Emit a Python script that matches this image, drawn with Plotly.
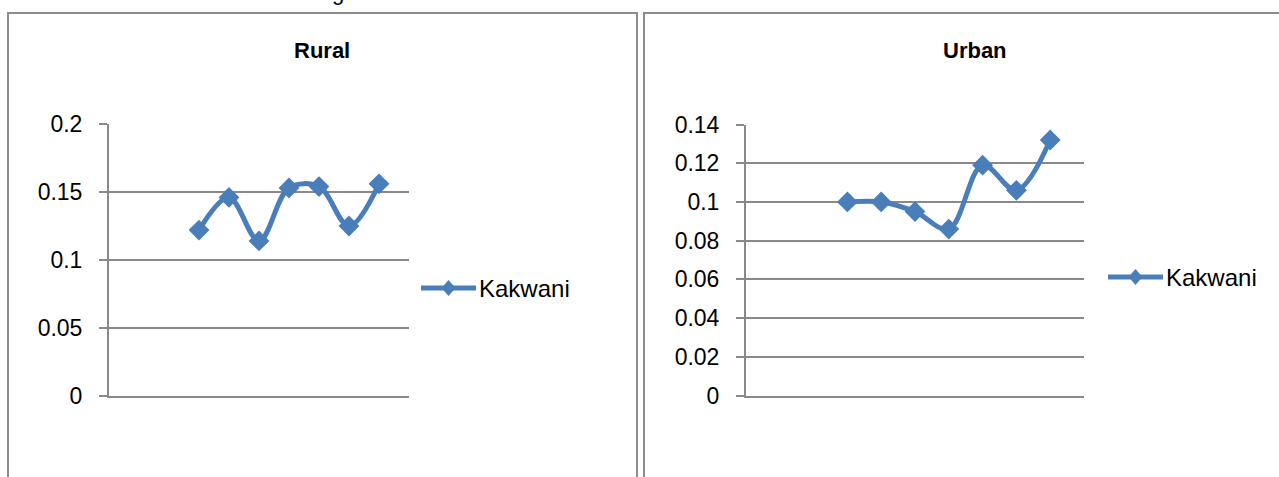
import plotly.graph_objects as go

# Kakwani index by period, rural and urban
periods = [3, 4, 5, 6, 7, 8, 9]
rural_kakwani = [0.122, 0.146, 0.114, 0.153, 0.154, 0.125, 0.156]
urban_kakwani = [0.100, 0.100, 0.095, 0.086, 0.119, 0.106, 0.132]

rural_ticks = [0, 0.05, 0.1, 0.15, 0.2]
urban_ticks = [0, 0.02, 0.04, 0.06, 0.08, 0.1, 0.12, 0.14]

W, H = 1279, 477
BLUE = "#4a7ebb"
GRID = "#898989"
FONT = "Liberation Sans"


def px(x):
    return x / W


def py(y):
    return 1 - y / H


fig = go.Figure()

for xs, ys, xa, ya in [(periods, rural_kakwani, "x", "y"),
                       (periods, urban_kakwani, "x2", "y2")]:
    fig.add_trace(go.Scatter(
        x=xs, y=ys, name="Kakwani", mode="lines+markers",
        line=dict(color=BLUE, width=5, shape="spline", smoothing=1),
        marker=dict(symbol="diamond", size=16, color=BLUE),
        xaxis=xa, yaxis=ya, showlegend=False,
    ))

xcommon = dict(range=[0, 10], showgrid=False, zeroline=False, showticklabels=False,
               ticks="", showline=True, linecolor=GRID, linewidth=2,
               automargin=False, fixedrange=True)
ycommon = dict(showgrid=True, gridcolor=GRID, gridwidth=2, zeroline=False,
               showline=True, linecolor=GRID, linewidth=2,
               ticks="outside", ticklen=8, tickwidth=2, tickcolor=GRID,
               ticklabelstandoff=12, automargin=False, fixedrange=True,
               tickfont=dict(family=FONT, size=23, color="#000000"))

fig.update_layout(
    width=W, height=H, autosize=False,
    margin=dict(l=0, r=0, t=0, b=0, pad=0, autoexpand=False),
    showlegend=False,
    paper_bgcolor="white", plot_bgcolor="white",
    font=dict(family=FONT, color="#000000"),
    xaxis=dict(domain=[px(109), px(409)], anchor="y", **xcommon),
    yaxis=dict(domain=[py(396), py(124)], anchor="x", range=[0, 0.2],
               tickvals=rural_ticks, **ycommon),
    xaxis2=dict(domain=[px(746), px(1084)], anchor="y2", **xcommon),
    yaxis2=dict(domain=[py(395.5), py(124.5)], anchor="x2", range=[0, 0.14],
                tickvals=urban_ticks, **ycommon),
)

shapes = []
# chart frames
for x0, x1 in [(8, 637), (644, 1310)]:
    shapes.append(dict(type="rect", xref="paper", yref="paper",
                       x0=px(x0), x1=px(x1), y0=py(520), y1=py(13),
                       line=dict(color="#8c8c8c", width=2), fillcolor="rgba(0,0,0,0)",
                       layer="below"))

annotations = []
# titles
for text, cx in [("Rural", 322), ("Urban", 975)]:
    annotations.append(dict(text=f"<b>{text}</b>", xref="paper", yref="paper",
                            x=px(cx), y=py(50), xanchor="center", yanchor="middle",
                            showarrow=False, font=dict(family=FONT, size=22, color="#000000")))

# legends: line sample with diamond, then label
for lx0, ly in [(421, 288), (1108, 277)]:
    shapes.append(dict(type="line", xref="paper", yref="paper",
                       x0=px(lx0), x1=px(lx0 + 55), y0=py(ly), y1=py(ly),
                       line=dict(color=BLUE, width=5)))
    cx = lx0 + 27.5
    shapes.append(dict(type="path", xref="paper", yref="paper",
                       path=(f"M {px(cx - 7)} {py(ly)} L {px(cx)} {py(ly - 8)} "
                             f"L {px(cx + 7)} {py(ly)} L {px(cx)} {py(ly + 8)} Z"),
                       fillcolor=BLUE, line=dict(color=BLUE, width=0)))
    annotations.append(dict(text="Kakwani", xref="paper", yref="paper",
                            x=px(lx0 + 56), y=py(ly), xanchor="left", yanchor="middle",
                            showarrow=False, font=dict(family=FONT, size=24, color="#000000")))

# caption text running above the frame
annotations.append(dict(text="g", xref="paper", yref="paper",
                        x=px(338), y=py(7), xanchor="center", yanchor="bottom",
                        showarrow=False, font=dict(family=FONT, size=22, color="#000000")))

fig.update_layout(shapes=shapes, annotations=annotations)

fig.write_html("out.html", config={"displayModeBar": False})
